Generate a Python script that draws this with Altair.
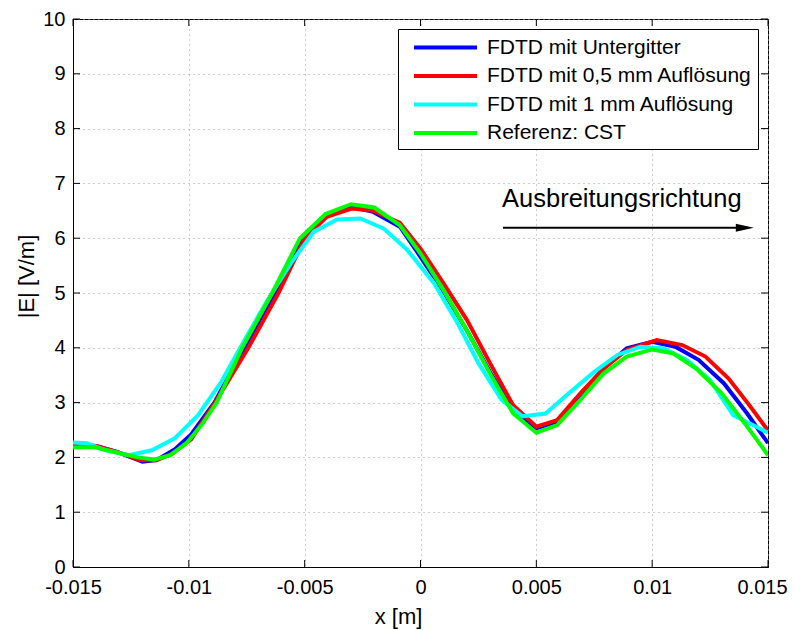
import altair as alt
import pandas as pd

series_names = ["FDTD mit Untergitter", "FDTD mit 0,5 mm Auflösung",
                "FDTD mit 1 mm Auflösung", "Referenz: CST"]
series_colors = ["#0000ff", "#ff0000", "#00ffff", "#00ff00"]

blue_x = [-0.015, -0.0140, -0.0131, -0.0120, -0.0114, -0.0106, -0.0099, -0.0089, -0.0076,
          -0.0063, -0.0051, -0.00405, -0.00297, -0.00204, -0.00089, 0.0, 0.001, 0.002,
          0.003, 0.004, 0.005, 0.0059, 0.0069, 0.0079, 0.0089, 0.0100, 0.0110, 0.0120,
          0.0131, 0.0141, 0.015]
blue_y = [2.22, 2.21, 2.10, 1.92, 1.95, 2.15, 2.42, 3.0, 4.0,
          5.0, 6.0, 6.42, 6.57, 6.48, 6.21, 5.66, 5.02, 4.32,
          3.56, 2.86, 2.53, 2.65, 3.14, 3.62, 3.99, 4.11, 4.02, 3.78,
          3.35, 2.80, 2.26]

red_x = [-0.015, -0.0140, -0.0131, -0.0121, -0.0114, -0.0107, -0.0099, -0.00887, -0.00743,
         -0.00613, -0.00499, -0.00405, -0.00297, -0.00204, -0.00089, 0.0, 0.001, 0.002,
         0.003, 0.004, 0.005, 0.0059, 0.0069, 0.0079, 0.0089, 0.0102, 0.0113, 0.0123,
         0.0133, 0.0142, 0.015]
red_y = [2.24, 2.21, 2.10, 1.95, 1.95, 2.07, 2.33, 3.0, 4.0,
         5.0, 6.0, 6.39, 6.54, 6.50, 6.28, 5.81, 5.17, 4.51,
         3.72, 2.95, 2.56, 2.68, 3.17, 3.62, 3.96, 4.14, 4.05, 3.84,
         3.44, 2.95, 2.49]

cyan_x = [-0.015, -0.0144, -0.0136, -0.0126, -0.0116, -0.0106, -0.0096, -0.0086, -0.0076,
          -0.0066, -0.0056, -0.0046, -0.0036, -0.0026, -0.0016, -0.0006, 0.0006, 0.0016,
          0.0025, 0.0035, 0.0044, 0.0054, 0.0064, 0.0075, 0.0085, 0.0095, 0.0105, 0.0115,
          0.0125, 0.0135, 0.0145, 0.015]
cyan_y = [2.27, 2.26, 2.13, 2.04, 2.13, 2.35, 2.77, 3.38, 4.14,
          4.87, 5.54, 6.12, 6.34, 6.36, 6.18, 5.80, 5.17, 4.45,
          3.72, 3.05, 2.75, 2.80, 3.17, 3.56, 3.87, 4.02, 3.99, 3.78,
          3.41, 2.77, 2.56, 2.45]

green_x = [-0.015, -0.0141, -0.0131, -0.0122, -0.0115, -0.0108, -0.0101, -0.0094, -0.0088,
           -0.0077, -0.0064, -0.0052, -0.0041, -0.0030, -0.0020, -0.0009, 0.0, 0.001,
           0.002, 0.003, 0.004, 0.005, 0.0059, 0.0069, 0.0079, 0.0089, 0.0100, 0.0109,
           0.0119, 0.0130, 0.0140, 0.015]
green_y = [2.18, 2.19, 2.09, 2.00, 1.96, 2.04, 2.26, 2.62, 3.0,
           4.0, 5.0, 6.0, 6.44, 6.62, 6.56, 6.24, 5.72, 5.05,
           4.32, 3.53, 2.80, 2.45, 2.59, 3.05, 3.53, 3.84, 3.97, 3.90,
           3.62, 3.17, 2.62, 2.04]

x_ticks = [-0.015, -0.01, -0.005, 0.0, 0.005, 0.01, 0.015]
y_ticks = [0, 1, 2, 3, 4, 5, 6, 7, 8, 9, 10]

annot_text = "Ausbreitungsrichtung"
annot_x = [0.00352]
annot_y = [6.57]
arrow_x = [0.00356]
arrow_x2 = [0.0140]
arrow_y = [6.19]

FONT = "Liberation Sans"

series_data = [(blue_x, blue_y), (red_x, red_y), (cyan_x, cyan_y), (green_x, green_y)]
frames = []
for name, (xs, ys) in zip(series_names, series_data):
    frames.append(pd.DataFrame({"x": xs, "y": ys, "series": name, "order": range(len(xs))}))

x_scale = alt.Scale(domain=[-0.015, 0.015], nice=False, zero=False)
y_scale = alt.Scale(domain=[0, 10], nice=False, zero=False)
color_scale = alt.Scale(domain=series_names, range=series_colors)

axis_common = dict(
    ticks=False, labelFont=FONT, labelColor="black", labelFontSize=20,
    labelFlush=False, labelOverlap=False,
    titleFont=FONT, titleFontSize=22, titleColor="black", titleFontWeight="normal",
    domainColor="black", domainWidth=1,
    grid=True, gridColor="#9a9a9a", gridDash=[1, 4], gridWidth=1,
)

x_axis = alt.Axis(values=x_ticks, title="x [m]", labelPadding=10,
                  labelOffset={"condition": {"test": "datum.value >= 0.0149", "value": -6}, "value": 0},
                  labelExpr="datum.value == 0 ? '0' : (datum.value < 0 ? '-' : '') + format(abs(datum.value), '~g')",
                  titleX=325, titleY=49, titleBaseline="middle", titleAlign="center",
                  **axis_common)
y_axis = alt.Axis(values=y_ticks, title="|E| [V/m]", labelPadding=8,
                  titleX=-47, titleY=257, titleAngle=270, titleAlign="center",
                  titleBaseline="middle", **axis_common)

legend = alt.Legend(title=None, orient="none", legendX=325, legendY=10,
                    symbolType="M-3,0L3,0", symbolSize=441,
                    symbolStrokeWidth=4, symbolOffset=29,
                    labelFontSize=21, labelFont=FONT, labelColor="black",
                    labelLimit=500, labelOffset=29,
                    padding=6, rowPadding=5.5,
                    fillColor="white", strokeColor="#000000")

def X(field):
    return alt.X(field, scale=x_scale, axis=x_axis)

def Y(field):
    return alt.Y(field, scale=y_scale, axis=y_axis)

layers = []
for df in frames:
    layers.append(
        alt.Chart(df).mark_line(strokeWidth=4, clip=True).encode(
            x=X("x:Q"),
            y=Y("y:Q"),
            order="order:Q",
            color=alt.Color("series:N", scale=color_scale, sort=series_names, legend=legend)
        )
    )

ytick_df = pd.DataFrame({"v": y_ticks})
xtick_df = pd.DataFrame({"v": x_ticks})
tick_left = alt.Chart(ytick_df).mark_rule(color="black", strokeWidth=1).encode(
    y=Y("v:Q"), x=alt.value(0), x2=alt.value(7))
tick_right = alt.Chart(ytick_df).mark_rule(color="black", strokeWidth=1).encode(
    y=Y("v:Q"), x=alt.value(688), x2=alt.value(695))
tick_bottom = alt.Chart(xtick_df).mark_rule(color="black", strokeWidth=1).encode(
    x=X("v:Q"), y=alt.value(548), y2=alt.value(541))
tick_top = alt.Chart(xtick_df).mark_rule(color="black", strokeWidth=1).encode(
    x=X("v:Q"), y=alt.value(0), y2=alt.value(7))

annot_df = pd.DataFrame({"x": annot_x, "y": annot_y, "t": [annot_text]})
annot = alt.Chart(annot_df).mark_text(align="left", baseline="alphabetic", fontSize=25.5,
                                      font=FONT, color="black").encode(
    x=X("x:Q"), y=Y("y:Q"), text="t:N")

arrow_df = pd.DataFrame({"x": arrow_x, "x2": arrow_x2, "y": arrow_y})
arrow_line = alt.Chart(arrow_df).mark_rule(color="black", strokeWidth=2).encode(
    x=X("x:Q"), x2="x2:Q", y=Y("y:Q"))
arrow_head = alt.Chart(arrow_df).mark_point(shape="M-1,-0.45L1,0L-1,0.45Z", size=324, filled=True,
                                            color="black", opacity=1).encode(
    x=X("x2:Q"), y=Y("y:Q"))

chart = alt.layer(tick_left, tick_right, tick_bottom, tick_top, *layers, annot, arrow_line, arrow_head).properties(
    width=695, height=548,
    autosize=alt.AutoSizeParams(type="none"),
    padding={"left": 65, "top": 11, "right": 19, "bottom": 62},
    background="white",
).configure_view(stroke="black", strokeWidth=1)

chart.save("out.html", embed_options={"renderer": "svg", "actions": False})
